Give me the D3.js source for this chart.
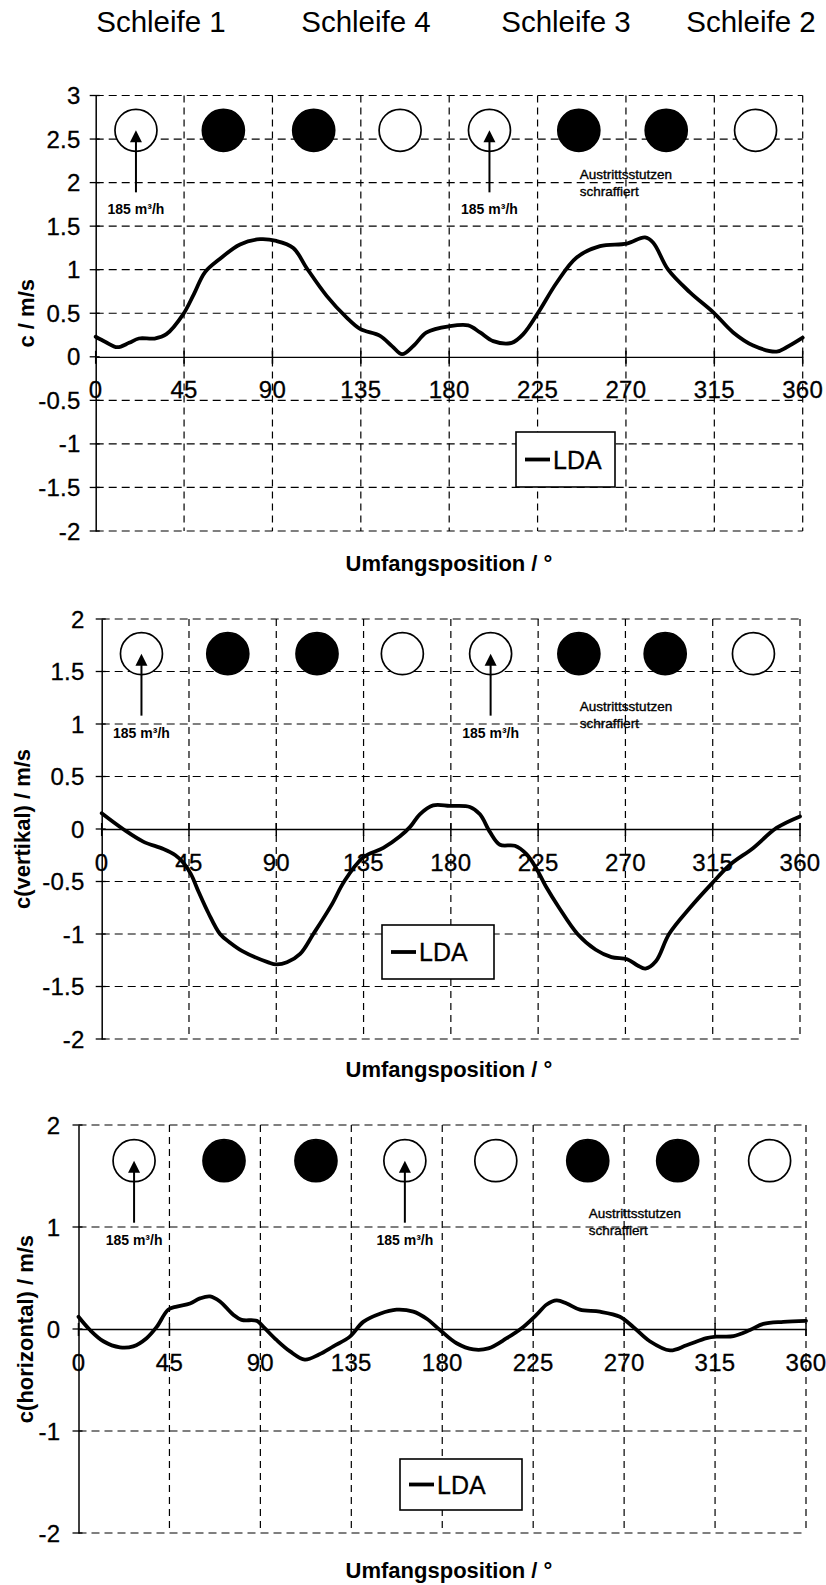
<!DOCTYPE html>
<html>
<head>
<meta charset="utf-8">
<script src="https://cdn.jsdelivr.net/npm/d3@7"></script>
<style>
  html, body { margin: 0; padding: 0; background: #fff; }
  svg { display: block; font-family: "Liberation Sans", Arial, sans-serif; }
</style>
</head>
<body>
<svg id="chart" width="826" height="1585"></svg>
<script>
// ---------------- DATA ----------------
const headerLabels = ["Schleife 1", "Schleife 4", "Schleife 3", "Schleife 2"];
const xTickValues = [0, 45, 90, 135, 180, 225, 270, 315, 360];
const yTicksTotal = [3, 2.5, 2, 1.5, 1, 0.5, 0, -0.5, -1, -1.5, -2];
const yTicksVertical = [2, 1.5, 1, 0.5, 0, -0.5, -1, -1.5, -2];
const yTicksHorizontal = [2, 1, 0, -1, -2];
const yTitles = ["c / m/s", "c(vertikal) / m/s", "c(horizontal) / m/s"];
const xTitle = "Umfangsposition / °";
const legendLabel = "LDA";
const flowLabel = "185 m³/h";
const noteLines = ["Austrittsstutzen", "schraffiert"];

// c (total), [degree, m/s]
const cTotal = [
  [0, 0.23], [5, 0.17], [11, 0.11], [17, 0.16], [22, 0.21], [30, 0.21], [36, 0.26],
  [44.6, 0.49], [50, 0.72], [55.6, 0.97], [63, 1.12], [73.5, 1.29], [83.7, 1.35],
  [92, 1.33], [100.6, 1.25], [107.4, 1.02], [117.6, 0.70], [127.8, 0.45], [134.6, 0.32],
  [144.8, 0.24], [151, 0.12], [156, 0.03], [162, 0.13], [168.5, 0.28], [180, 0.35],
  [189.7, 0.36], [195.7, 0.28], [202.4, 0.18], [211.8, 0.16], [217.7, 0.26],
  [225.4, 0.51], [234.7, 0.85], [244.9, 1.14], [256.8, 1.27], [270.4, 1.30],
  [279.7, 1.37], [283.9, 1.31], [291.5, 1.00], [302.6, 0.74], [314.5, 0.51],
  [324.6, 0.28], [334.8, 0.13], [346.7, 0.06], [351.8, 0.11], [360, 0.22]
];

// c(vertikal)
const cVertical = [
  [0, 0.15], [11, 0.0], [21.4, -0.12], [31.8, -0.19], [38, -0.25], [42, -0.32],
  [46, -0.43], [50, -0.60], [55, -0.80], [61, -1.0], [66, -1.08], [72.3, -1.16],
  [85.9, -1.27], [90, -1.29], [95.5, -1.27], [102.3, -1.19], [109.1, -1.0],
  [118.6, -0.72], [125, -0.5], [134.9, -0.27], [145.2, -0.18], [153.8, -0.07],
  [159, 0.02], [164, 0.14], [170.9, 0.225], [179.5, 0.22], [189.8, 0.21], [195, 0.14],
  [200.2, -0.03], [205.3, -0.15], [213, -0.16], [219, -0.24], [224.2, -0.38],
  [229.4, -0.56], [235.8, -0.75], [245.3, -1.0], [254.7, -1.15], [262.8, -1.22],
  [270.9, -1.24], [276.3, -1.30], [280.3, -1.33], [285.7, -1.26], [292.5, -1.0],
  [303.3, -0.75], [314.5, -0.52], [323.9, -0.34], [335.9, -0.18], [347.9, 0.01],
  [360, 0.12]
];

// c(horizontal)
const cHorizontal = [
  [0, 0.12], [5.7, -0.01], [12.3, -0.12], [20.5, -0.18], [27.1, -0.17], [33.7, -0.09],
  [38.7, 0.02], [44.4, 0.19], [48.6, 0.22], [55.2, 0.25], [60.1, 0.30], [65.1, 0.32],
  [70, 0.27], [76.6, 0.14], [80.7, 0.09], [88.2, 0.08], [91.5, 0.02], [98.1, -0.11],
  [104.7, -0.22], [112, -0.30], [119, -0.25], [126.1, -0.17], [134.3, -0.075],
  [140.9, 0.07], [149.2, 0.15], [157.4, 0.19], [165.7, 0.17], [172.3, 0.10],
  [178.9, -0.01], [187.1, -0.14], [195.4, -0.20], [202.8, -0.19], [211.9, -0.09],
  [220.1, 0.02], [226.7, 0.14], [231.7, 0.24], [236.6, 0.28], [241.6, 0.25],
  [248.1, 0.19], [258, 0.17], [267.9, 0.12], [274.5, 0.02], [282.7, -0.12],
  [292.7, -0.21], [300.9, -0.16], [310.8, -0.09], [316, -0.075], [324.1, -0.07],
  [332.3, -0.01], [338.9, 0.05], [348.8, 0.07], [360, 0.08]
];

// pipe (Stutzen) markers: angular positions, filled = outlet
const pipePosA = [20.5, 65, 111, 155, 200.5, 246, 290.5, 336];
const pipePosB = [27.5, 72, 117.5, 161.5, 206.5, 252, 296.5, 342];
const pipeFilled = [false, true, true, false, false, true, true, false];
const pipeLevels = [2.6, 1.67, 1.65];
const inletsA = [0, 4];
const inletsB = [0, 3];

// ---------------- LAYOUT ----------------
const panels = [
  { data: cTotal, yTicks: yTicksTotal, yDomain: [-2, 3], pipes: pipePosA, inlets: inletsA,
    x0: 95.7, x1: 802.7, yTop: 95.5, yBot: 531, labelGap: 15, titleX: 34,
    xTitleY: 563, noteDy: 44, legend: { x: 516, y: 432, w: 99, h: 55 } },
  { data: cVertical, yTicks: yTicksVertical, yDomain: [-2, 2], pipes: pipePosA, inlets: inletsA,
    x0: 101.7, x1: 800, yTop: 619, yBot: 1039, labelGap: 17, titleX: 30,
    xTitleY: 1069, noteDy: 53, legend: { x: 382, y: 925, w: 112, h: 54 } },
  { data: cHorizontal, yTicks: yTicksHorizontal, yDomain: [-2, 2], pipes: pipePosB, inlets: inletsB,
    x0: 78.5, x1: 806, yTop: 1125, yBot: 1533, labelGap: 18, titleX: 33,
    xTitleY: 1570, noteDy: 52.5, legend: { x: 400, y: 1459, w: 122, h: 51 } }
];
const headerX = [161, 366, 566, 751];

const svg = d3.select("#chart");

// headers
svg.selectAll("text.header").data(headerLabels).join("text")
  .attr("class", "header")
  .attr("x", (d, i) => headerX[i]).attr("y", 32)
  .attr("text-anchor", "middle")
  .style("font-size", "29.5px")
  .text(d => d);

panels.forEach((p, pi) => {
  const g = svg.append("g");
  const x = d3.scaleLinear().domain([0, 360]).range([p.x0, p.x1]);
  const y = d3.scaleLinear().domain(p.yDomain).range([p.yBot, p.yTop]);
  const [yMin, yMax] = p.yDomain;

  // horizontal gridlines
  g.selectAll("line.hg").data(p.yTicks.filter(v => v !== 0)).join("line")
    .attr("x1", x(0)).attr("x2", x(360))
    .attr("y1", d => y(d)).attr("y2", d => y(d))
    .attr("stroke", "#000").attr("stroke-width", 1.2)
    .attr("stroke-dasharray", "8,5");
  // vertical gridlines
  g.selectAll("line.vg").data(xTickValues.filter(v => v !== 0)).join("line")
    .attr("x1", d => x(d)).attr("x2", d => x(d))
    .attr("y1", y(yMax)).attr("y2", y(yMin))
    .attr("stroke", "#000").attr("stroke-width", 1.2)
    .attr("stroke-dasharray", "7,5");

  // y axis (solid, with ticks)
  const yAxis = d3.axisLeft(y).tickValues(p.yTicks).tickSize(0).tickFormat(() => "");
  g.append("g").attr("transform", `translate(${x(0)},0)`).call(yAxis)
    .call(a => a.select(".domain").attr("stroke", "#000").attr("stroke-width", 1.5));
  g.selectAll("line.yt").data(p.yTicks).join("line")
    .attr("x1", x(0) - 6).attr("x2", x(0) + 4)
    .attr("y1", d => y(d)).attr("y2", d => y(d))
    .attr("stroke", "#000").attr("stroke-width", 1.3);
  g.selectAll("text.yl").data(p.yTicks).join("text")
    .attr("x", x(0) - p.labelGap).attr("y", d => y(d))
    .attr("text-anchor", "end").attr("dominant-baseline", "central")
    .style("font-size", "24px").style("letter-spacing", "0.3px")
    .attr("stroke", "#000").attr("stroke-width", 0.3)
    .text(d => String(d));

  // x axis at zero (solid, with crossing ticks)
  const xAxis = d3.axisBottom(x).tickValues(xTickValues).tickSize(0).tickFormat(() => "");
  g.append("g").attr("transform", `translate(0,${y(0)})`).call(xAxis)
    .call(a => a.select(".domain").attr("stroke", "#000").attr("stroke-width", 1.3));
  g.selectAll("line.xt").data(xTickValues).join("line")
    .attr("x1", d => x(d)).attr("x2", d => x(d))
    .attr("y1", y(0) - 6).attr("y2", y(0) + 7)
    .attr("stroke", "#000").attr("stroke-width", 1.5);
  g.selectAll("text.xl").data(xTickValues).join("text")
    .attr("x", d => x(d)).attr("y", y(0) + 33)
    .attr("text-anchor", "middle").attr("dominant-baseline", "central")
    .style("font-size", "24px").style("letter-spacing", "0.3px")
    .attr("stroke", "#000").attr("stroke-width", 0.3)
    .text(d => d);

  // titles
  g.append("text")
    .attr("transform", `translate(${p.titleX},${(y(yMin) + y(yMax)) / 2}) rotate(-90)`)
    .attr("text-anchor", "middle")
    .style("font-size", "22px").style("font-weight", "bold")
    .text(yTitles[pi]);
  g.append("text")
    .attr("x", 449).attr("y", p.xTitleY)
    .attr("text-anchor", "middle").attr("dominant-baseline", "central")
    .style("font-size", "22px").style("font-weight", "bold")
    .text(xTitle);

  // pipe markers
  const lvl = y(pipeLevels[pi]);
  g.selectAll("circle.pipe").data(p.pipes).join("circle")
    .attr("cx", d => x(d)).attr("cy", lvl).attr("r", 21)
    .attr("fill", (d, i) => pipeFilled[i] ? "#000" : "#fff")
    .attr("stroke", "#000").attr("stroke-width", 1.7);

  // inlet arrows
  p.inlets.forEach(idx => {
    const cx = x(p.pipes[idx]);
    g.append("line").attr("x1", cx).attr("x2", cx)
      .attr("y1", lvl + 9).attr("y2", lvl + 62)
      .attr("stroke", "#000").attr("stroke-width", 2);
    g.append("path")
      .attr("d", `M${cx},${lvl} L${cx - 6},${lvl + 12} L${cx + 6},${lvl + 12} Z`)
      .attr("fill", "#000");
    g.append("text").attr("x", cx).attr("y", lvl + 79)
      .attr("text-anchor", "middle").attr("dominant-baseline", "central")
      .style("font-size", "14px").style("font-weight", "bold")
      .text(flowLabel);
  });

  // note
  const nx = x(p.pipes[5]) + 1;
  g.selectAll("text.note").data(noteLines).join("text")
    .attr("x", nx).attr("y", (d, i) => lvl + p.noteDy + i * 17)
    .attr("dominant-baseline", "central")
    .style("font-size", "13.5px")
    .attr("stroke", "#000").attr("stroke-width", 0.35)
    .text(d => d);

  // data line
  const line = d3.line().x(d => x(d[0])).y(d => y(d[1])).curve(d3.curveCatmullRom.alpha(0.5));
  g.append("path").datum(p.data)
    .attr("d", line)
    .attr("fill", "none").attr("stroke", "#000").attr("stroke-width", 3.8)
    .attr("stroke-linejoin", "round").attr("stroke-linecap", "round");

  // legend
  const L = p.legend;
  const lg = g.append("g");
  lg.append("rect").attr("x", L.x).attr("y", L.y).attr("width", L.w).attr("height", L.h)
    .attr("fill", "#fff").attr("stroke", "#000").attr("stroke-width", 1.6);
  const ly = L.y + L.h / 2;
  lg.append("line").attr("x1", L.x + 9).attr("x2", L.x + 34)
    .attr("y1", ly).attr("y2", ly)
    .attr("stroke", "#000").attr("stroke-width", 3.8);
  lg.append("text").attr("x", L.x + 37).attr("y", ly)
    .attr("dominant-baseline", "central")
    .style("font-size", "25px")
    .attr("stroke", "#000").attr("stroke-width", 0.3)
    .text(legendLabel);
});
</script>
</body>
</html>
